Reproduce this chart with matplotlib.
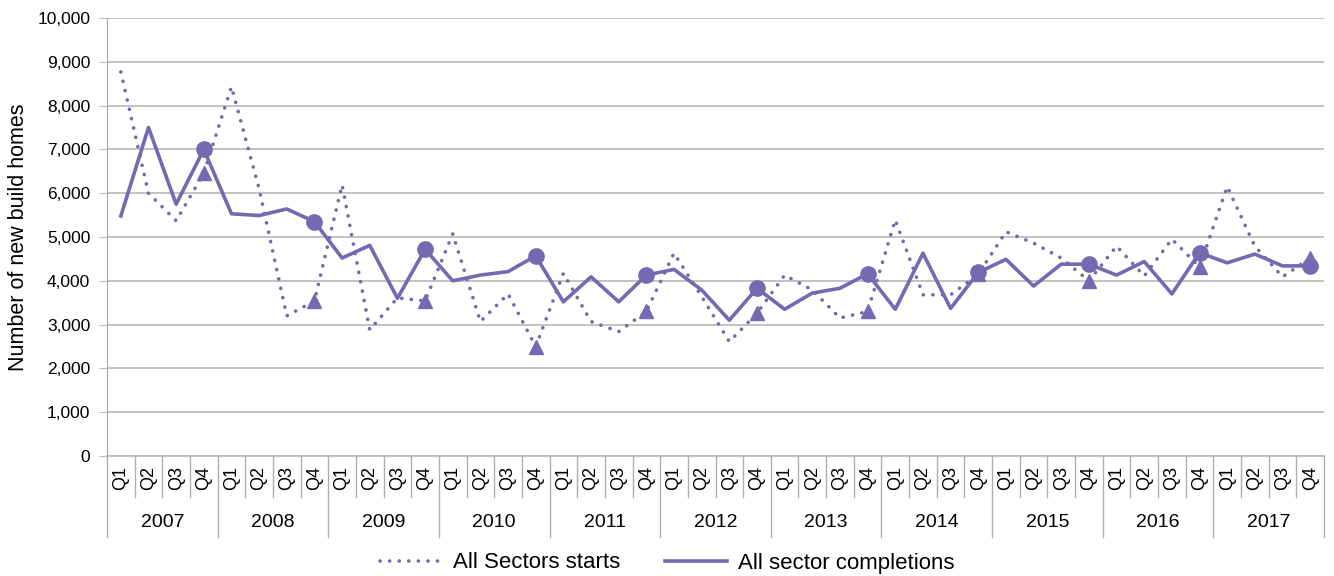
import matplotlib.pyplot as plt
from matplotlib.lines import Line2D

plt.rcParams['font.family'] = ['Liberation Sans', 'DejaVu Sans']

years = ['2007', '2008', '2009', '2010', '2011', '2012', '2013', '2014', '2015', '2016', '2017']
quarters = ['Q1', 'Q2', 'Q3', 'Q4']

starts = [8770, 6000, 5370, 6460,
          8430, 6100, 3200, 3540,
          6190, 2880, 3610, 3540,
          5070, 3070, 3700, 2500,
          4170, 3070, 2840, 3300,
          4630, 3640, 2610, 3260,
          4130, 3790, 3150, 3300,
          5390, 3680, 3680, 4150,
          5120, 4860, 4520, 4000,
          4790, 4110, 4950, 4320,
          6150, 4790, 4090, 4520]

completions = [5480, 7500, 5750, 7000,
               5530, 5490, 5640, 5350,
               4520, 4810, 3600, 4720,
               4000, 4130, 4210, 4570,
               3520, 4090, 3520, 4130,
               4260, 3790, 3100, 3830,
               3350, 3720, 3830, 4160,
               3350, 4630, 3370, 4190,
               4490, 3880, 4380, 4380,
               4130, 4440, 3700, 4640,
               4410, 4610, 4340, 4340]

colour = '#7668b1'
dots = (0, (0.05, 2.6))
n = len(starts)
x = list(range(n))
q4 = [i for i in x if i % 4 == 3]

fig = plt.figure(figsize=(13.34, 5.76), dpi=100)
ax = fig.add_axes([107 / 1334, 1 - 456 / 576, 1217 / 1334, 438 / 576])

ax.plot(x, starts, color=colour, linewidth=2.6, linestyle=dots,
        dash_capstyle='round', zorder=3)
ax.plot(x, completions, color=colour, linewidth=2.6, zorder=4)
ax.plot(q4, [starts[i] for i in q4], linestyle='none', marker='^',
        markersize=10, color=colour, zorder=5)
ax.plot(q4, [completions[i] for i in q4], linestyle='none', marker='o',
        markersize=11, color=colour, zorder=6)

ax.set_xlim(-0.5, n - 0.5)
ax.set_ylim(0, 10000)
ax.set_yticks(range(0, 10001, 1000))
ax.set_yticklabels([f'{v:,}' for v in range(0, 10001, 1000)], fontsize=12.5)
ax.yaxis.grid(True, color='#bdbdbd', linewidth=1.3)
ax.set_axisbelow(True)
ax.tick_params(axis='y', length=6, color='#bdbdbd', pad=6)
ax.set_xticks([])
for side in ['top', 'right', 'bottom']:
    ax.spines[side].set_visible(False)
ax.spines['left'].set_color('#a6a6a6')
ax.set_ylabel('Number of new build homes', fontsize=15.5, labelpad=6)

# two-level category axis
trans = ax.get_xaxis_transform()
sep = '#b0b0b0'
ax.plot([-0.5, n - 0.5], [0, 0], color='#bdbdbd', linewidth=1.3,
        transform=trans, clip_on=False)
for i in range(n):
    ax.text(i, -0.05, quarters[i % 4], rotation=90, ha='center', va='center',
            fontsize=13, transform=trans)
for i in range(n + 1):
    bottom = -0.185 if i % 4 == 0 else -0.094
    ax.plot([i - 0.5, i - 0.5], [0, bottom], color=sep, linewidth=1,
            transform=trans, clip_on=False)
for k, yr in enumerate(years):
    ax.text(4 * k + 1.5, -0.151, yr, ha='center', va='center',
            fontsize=14, transform=trans)

handles = [Line2D([], [], color=colour, linewidth=2.6, linestyle=dots,
                  dash_capstyle='round'),
           Line2D([], [], color=colour, linewidth=2.6)]
fig.legend(handles, ['All Sectors starts', 'All sector completions'],
           loc='center', bbox_to_anchor=(0.5, 1 - 563 / 576), ncol=2,
           frameon=False, fontsize=16, handlelength=2.8, columnspacing=2.0,
           handletextpad=0.5)

fig.savefig('out.png', dpi=100)
